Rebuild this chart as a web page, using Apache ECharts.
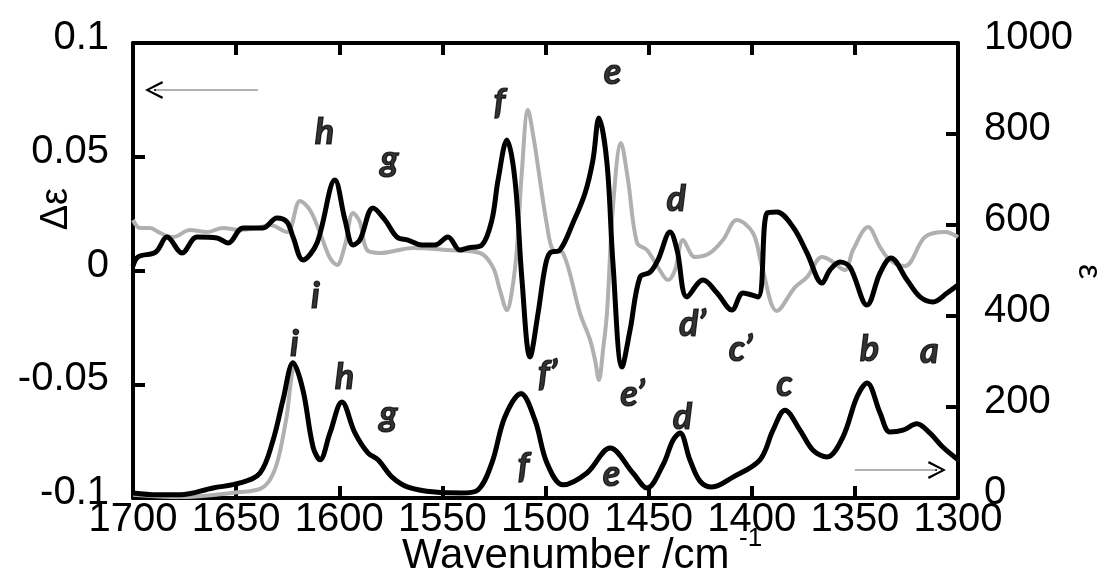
<!DOCTYPE html>
<html>
<head>
<meta charset="utf-8">
<script src="https://cdn.jsdelivr.net/npm/echarts@6/dist/echarts.min.js"></script>
<style>
  html, body { margin: 0; padding: 0; background: #fff; }
  #chart { width: 1106px; height: 574px; }
</style>
</head>
<body>
<div id="chart"></div>
<script>
// ---- Data (wavenumber /cm-1, value) ----
const vcdBlack = [[1700,0.002],[1697.5,0.006],[1689,0.0081],[1683.5,0.0147],[1676.2,0.0077],[1669,0.0147],[1659.3,0.0143],[1653.9,0.0121],[1646.7,0.0187],[1637,0.0187],[1630.2,0.0231],[1625.3,0.0213],[1622.4,0.0147],[1617.6,0.0046],[1610.8,0.0121],[1602.1,0.0398],[1597.2,0.0222],[1593.3,0.0112],[1590,0.0134],[1583.6,0.0275],[1577.8,0.0222],[1572,0.0147],[1566.7,0.0134],[1559.9,0.0112],[1553.6,0.0112],[1547.3,0.0147],[1541.5,0.009],[1537.6,0.0099],[1530.8,0.0112],[1526,0.0222],[1523,0.0398],[1518.7,0.0574],[1514.8,0.0398],[1511.4,-0.0042],[1507.5,-0.038],[1503.6,-0.0187],[1500.2,0.0015],[1497.8,0.0077],[1493,0.009],[1486.7,0.0209],[1480.8,0.0341],[1477,0.0486],[1474.1,0.067],[1470.2,0.0473],[1467.3,0.0033],[1462.9,-0.0424],[1459,-0.0262],[1454.2,-0.0029],[1449.3,-0.0007],[1445.5,0.0046],[1439.6,0.0169],[1436.2,0.009],[1431.4,-0.0116],[1423.6,-0.0042],[1416.8,-0.0099],[1409.6,-0.0174],[1404.2,-0.0099],[1397,-0.0116],[1392.6,0.0253],[1387.8,0.0257],[1380,0.0191],[1373.2,0.0077],[1365.9,-0.0055],[1362.1,0.0002],[1357.2,0.0037],[1352.4,0.0015],[1344.1,-0.0152],[1337.8,-0.0011],[1332.5,0.0055],[1324.7,-0.0042],[1318.4,-0.0116],[1312.1,-0.0138],[1305.3,-0.0099],[1300,-0.0064]];

const vcdGray = [[1700,0.0222],[1696.6,0.0187],[1691.8,0.0187],[1686.9,0.0165],[1680.6,0.0147],[1672.4,0.0178],[1664.1,0.0169],[1656.4,0.0187],[1648.1,0.0178],[1639.9,0.0187],[1633.6,0.02],[1625.3,0.0169],[1619,0.0306],[1614.2,0.0266],[1609.3,0.0165],[1604.5,0.0055],[1601.1,0.0024],[1597.2,0.0112],[1593.3,0.0253],[1590,0.0213],[1586.5,0.009],[1580.2,0.0077],[1564.2,0.0099],[1547.8,0.009],[1531.8,0.0077],[1525.5,0.0015],[1522.1,-0.0086],[1518.7,-0.0174],[1516.2,-0.0086],[1513.8,0.0103],[1511.4,0.0442],[1508.5,0.0705],[1505.6,0.0574],[1502.7,0.0398],[1499.3,0.02],[1496.4,0.009],[1491.5,0.0077],[1483.3,-0.0187],[1478.4,-0.0305],[1476,-0.0393],[1474.1,-0.0481],[1472.1,-0.0349],[1470.2,-0.0187],[1467.3,0.0279],[1463.4,0.056],[1460,0.0398],[1455.6,0.0121],[1450.8,0.009],[1445.5,0.0015],[1440.6,-0.0042],[1437.2,0.0002],[1433.3,0.0134],[1427.5,0.0059],[1420.3,0.0077],[1414,0.0134],[1407.2,0.0222],[1399.4,0.0165],[1395,0.0015],[1387.8,-0.0178],[1379,-0.0073],[1373.2,-0.0029],[1365.9,0.0059],[1362.1,0.0046],[1354.8,0.0002],[1350.9,0.009],[1343.6,0.0191],[1337.8,0.0103],[1333,0.0046],[1325.7,0.002],[1316,0.0147],[1306.3,0.0169],[1300,0.0147]];

const irBlack = [[1700,11],[1688.4,7],[1677.2,7],[1661.2,22],[1648.1,33],[1638.4,55],[1632.1,127],[1627.3,215],[1622.4,297],[1617.6,237],[1612.7,112],[1609.3,84],[1604.5,143],[1598.7,211],[1592.4,143],[1586.1,99],[1581.2,84],[1574.4,46],[1566.7,24],[1553.6,13],[1540.5,11],[1532.7,18],[1526,77],[1519.7,178],[1511.9,229],[1505.1,171],[1499.3,77],[1491.5,29],[1479.9,55],[1468.7,110],[1457.6,55],[1450.8,22],[1443,73],[1438.2,127],[1434.8,143],[1430,84],[1425.1,37],[1419.3,24],[1409.1,46],[1396,84],[1389.7,149],[1383.9,193],[1376.6,149],[1370.3,105],[1363.5,90],[1355.8,134],[1349,222],[1344.1,253],[1337.8,187],[1333,145],[1326.7,149],[1320,163],[1313.7,143],[1307.4,112],[1300,84]];

const irGray = [[1700,7],[1677.2,2],[1648.1,13],[1638.4,20],[1633.6,40],[1629.7,84],[1625.8,171],[1621.5,286],[1617.6,237],[1612.7,112],[1609.3,84],[1604.5,143],[1598.7,211],[1592.4,143],[1586.1,99],[1581.2,84],[1574.4,46],[1566.7,24],[1553.6,13],[1540.5,11],[1532.7,18],[1526,77],[1519.7,178],[1511.9,232],[1505.1,171],[1499.3,77],[1491.5,29],[1479.9,55],[1468.7,110],[1457.6,55],[1450.8,22],[1443,73],[1438.2,127],[1434.8,143],[1430,84],[1425.1,37],[1419.3,24],[1409.1,46],[1396,84],[1389.7,149],[1383.9,193],[1376.6,149],[1370.3,105],[1363.5,90],[1355.8,134],[1349,222],[1344.1,253],[1337.8,187],[1333,145],[1326.7,149],[1320,163],[1313.7,143],[1307.4,112],[1300,84]];

// Peak labels: text, wavenumber, Δε position
const peakNames = ['h','g','f','e','d','i','d’','c’','f’','e’','i','h','g','f','e','d','c','b','a'];
const peakX     = [1606.9,1575.4,1522.1,1467.3,1436.4,1611.3,1428.5,1405.2,1498.8,1457.6,1621.5,1597.2,1575.9,1510.4,1467.8,1433.3,1383.9,1342.7,1313.6];
const peakY     = [0.0604,0.0486,0.0736,0.0868,0.031,-0.0116,-0.024,-0.0349,-0.0459,-0.0547,-0.0327,-0.0473,-0.0635,-0.0864,-0.0899,-0.0648,-0.0503,-0.0349,-0.0358];

// Axis-direction arrows: [tailX, tipX, y(Δε)]
const arrowLeft  = [1639.4, 1689.8, 0.0793];
const arrowRight = [1350.0, 1310.2, -0.0877];

const xTicks = { min: 1300, max: 1700, step: 50 };
const yLeftTicks = { min: -0.1, max: 0.1, step: 0.05 };
const yRightTicks = { min: 0, max: 1000, step: 200 };

// ---- Chart ----
const chart = echarts.init(document.getElementById('chart'), null, { renderer: 'canvas' });
const FONT = 'Liberation Sans, Arial, sans-serif';
const LBLFONT = 'Lato, sans-serif';
const axisLineStyle = { color: '#000', width: 4 };
const tickStyle = { show: true, inside: true, length: 12, lineStyle: { color: '#000', width: 4 } };

const labelData = peakNames.map((n, i) => ({ name: n, value: [peakX[i], peakY[i]] }));
const chevron = 'path://M10,0 L20,20 L17.5,21 L10,5 L2.5,21 L0,20 Z';

function arrowLines(a) {
  const near = a[1] + (a[0] - a[1]) * 0.02;
  return [
    [{ coord: [a[0], a[2]], symbol: 'none', lineStyle: { color: '#999', width: 1.5, type: 'solid' } },
     { coord: [a[1], a[2]], symbol: 'none' }],
    [{ coord: [near, a[2]], symbol: 'none', lineStyle: { color: '#000', width: 1.5, type: 'solid' } },
     { coord: [a[1], a[2]], symbol: chevron, symbolSize: 18 }]
  ];
}

const yLabelBase = { color: '#000', fontSize: 40, fontFamily: FONT, verticalAlign: 'bottom', lineHeight: 10 };

const option = {
  animation: false,
  backgroundColor: '#fff',
  grid: { left: 133, right: 148, top: 43, bottom: 76, containLabel: false, outerBoundsMode: 'none' },
  xAxis: [
    {
      type: 'value', position: 'bottom', inverse: true,
      min: xTicks.min, max: xTicks.max, interval: xTicks.step,
      axisLine: { show: true, onZero: false, lineStyle: axisLineStyle },
      axisTick: tickStyle,
      splitLine: { show: false },
      axisLabel: { color: '#000', fontSize: 40, fontFamily: FONT, margin: 2, formatter: v => String(v) }
    },
    {
      type: 'value', position: 'top', inverse: true,
      min: xTicks.min, max: xTicks.max, interval: xTicks.step,
      axisLine: { show: true, onZero: false, lineStyle: axisLineStyle },
      axisTick: tickStyle,
      axisLabel: { show: false },
      splitLine: { show: false }
    }
  ],
  yAxis: [
    {
      type: 'value', position: 'left',
      min: yLeftTicks.min, max: yLeftTicks.max, interval: yLeftTicks.step,
      axisLine: { show: true, onZero: false, lineStyle: axisLineStyle },
      axisTick: tickStyle,
      splitLine: { show: false },
      axisLabel: Object.assign({ margin: 24, formatter: v => String(+(+v).toFixed(2)) }, yLabelBase)
    },
    {
      type: 'value', position: 'right',
      min: yRightTicks.min, max: yRightTicks.max, interval: yRightTicks.step,
      axisLine: { show: true, onZero: false, lineStyle: axisLineStyle },
      axisTick: tickStyle,
      splitLine: { show: false },
      axisLabel: Object.assign({ margin: 26, formatter: v => String(v) }, yLabelBase)
    }
  ],
  graphic: [
    { type: 'text', left: 38, top: 188, rotation: Math.PI / 2,
      style: { text: 'Δε', font: '38px ' + FONT, fill: '#000' } },
    { type: 'text', left: 1071, top: 264, rotation: -Math.PI / 2,
      style: { text: 'ε', font: '34px ' + FONT, fill: '#000' } },
    { type: 'text', left: 402, top: 535,
      style: { text: 'Wavenumber /cm', font: '42px ' + FONT, fill: '#000' } },
    { type: 'text', left: 739, top: 526,
      style: { text: '-1', font: '26px ' + FONT, fill: '#000' } }
  ],
  series: [
    { type: 'line', name: 'VCD gray', xAxisIndex: 0, yAxisIndex: 0, data: vcdGray,
      showSymbol: false, smooth: 0.35, z: 2, lineStyle: { color: '#b0b0b0', width: 4 } },
    { type: 'line', name: 'VCD black', xAxisIndex: 0, yAxisIndex: 0, data: vcdBlack,
      showSymbol: false, smooth: 0.35, z: 3, lineStyle: { color: '#000', width: 5 } },
    { type: 'line', name: 'IR gray', xAxisIndex: 0, yAxisIndex: 1, data: irGray,
      showSymbol: false, smooth: 0.35, z: 2, lineStyle: { color: '#b0b0b0', width: 4 } },
    { type: 'line', name: 'IR black', xAxisIndex: 0, yAxisIndex: 1, data: irBlack,
      showSymbol: false, smooth: 0.35, z: 3, lineStyle: { color: '#000', width: 5 } },
    { type: 'scatter', name: 'labels', xAxisIndex: 0, yAxisIndex: 0, data: labelData,
      symbol: 'circle', symbolSize: 1, z: 5, silent: true,
      itemStyle: { color: 'rgba(0,0,0,0)' },
      label: { show: true, position: [0, 0], align: 'center', verticalAlign: 'middle',
               formatter: p => '{t|' + p.name + '}',
               rich: { t: { fontSize: 36, fontStyle: 'italic', fontWeight: 'bold', fontFamily: LBLFONT,
                            color: '#000', textBorderColor: '#000', textBorderWidth: 1.2 } } },
      markLine: { silent: true, animation: false, symbol: 'none', label: { show: false },
                  data: arrowLines(arrowLeft).concat(arrowLines(arrowRight)) } }
  ]
};
chart.setOption(option);
</script>
</body>
</html>
